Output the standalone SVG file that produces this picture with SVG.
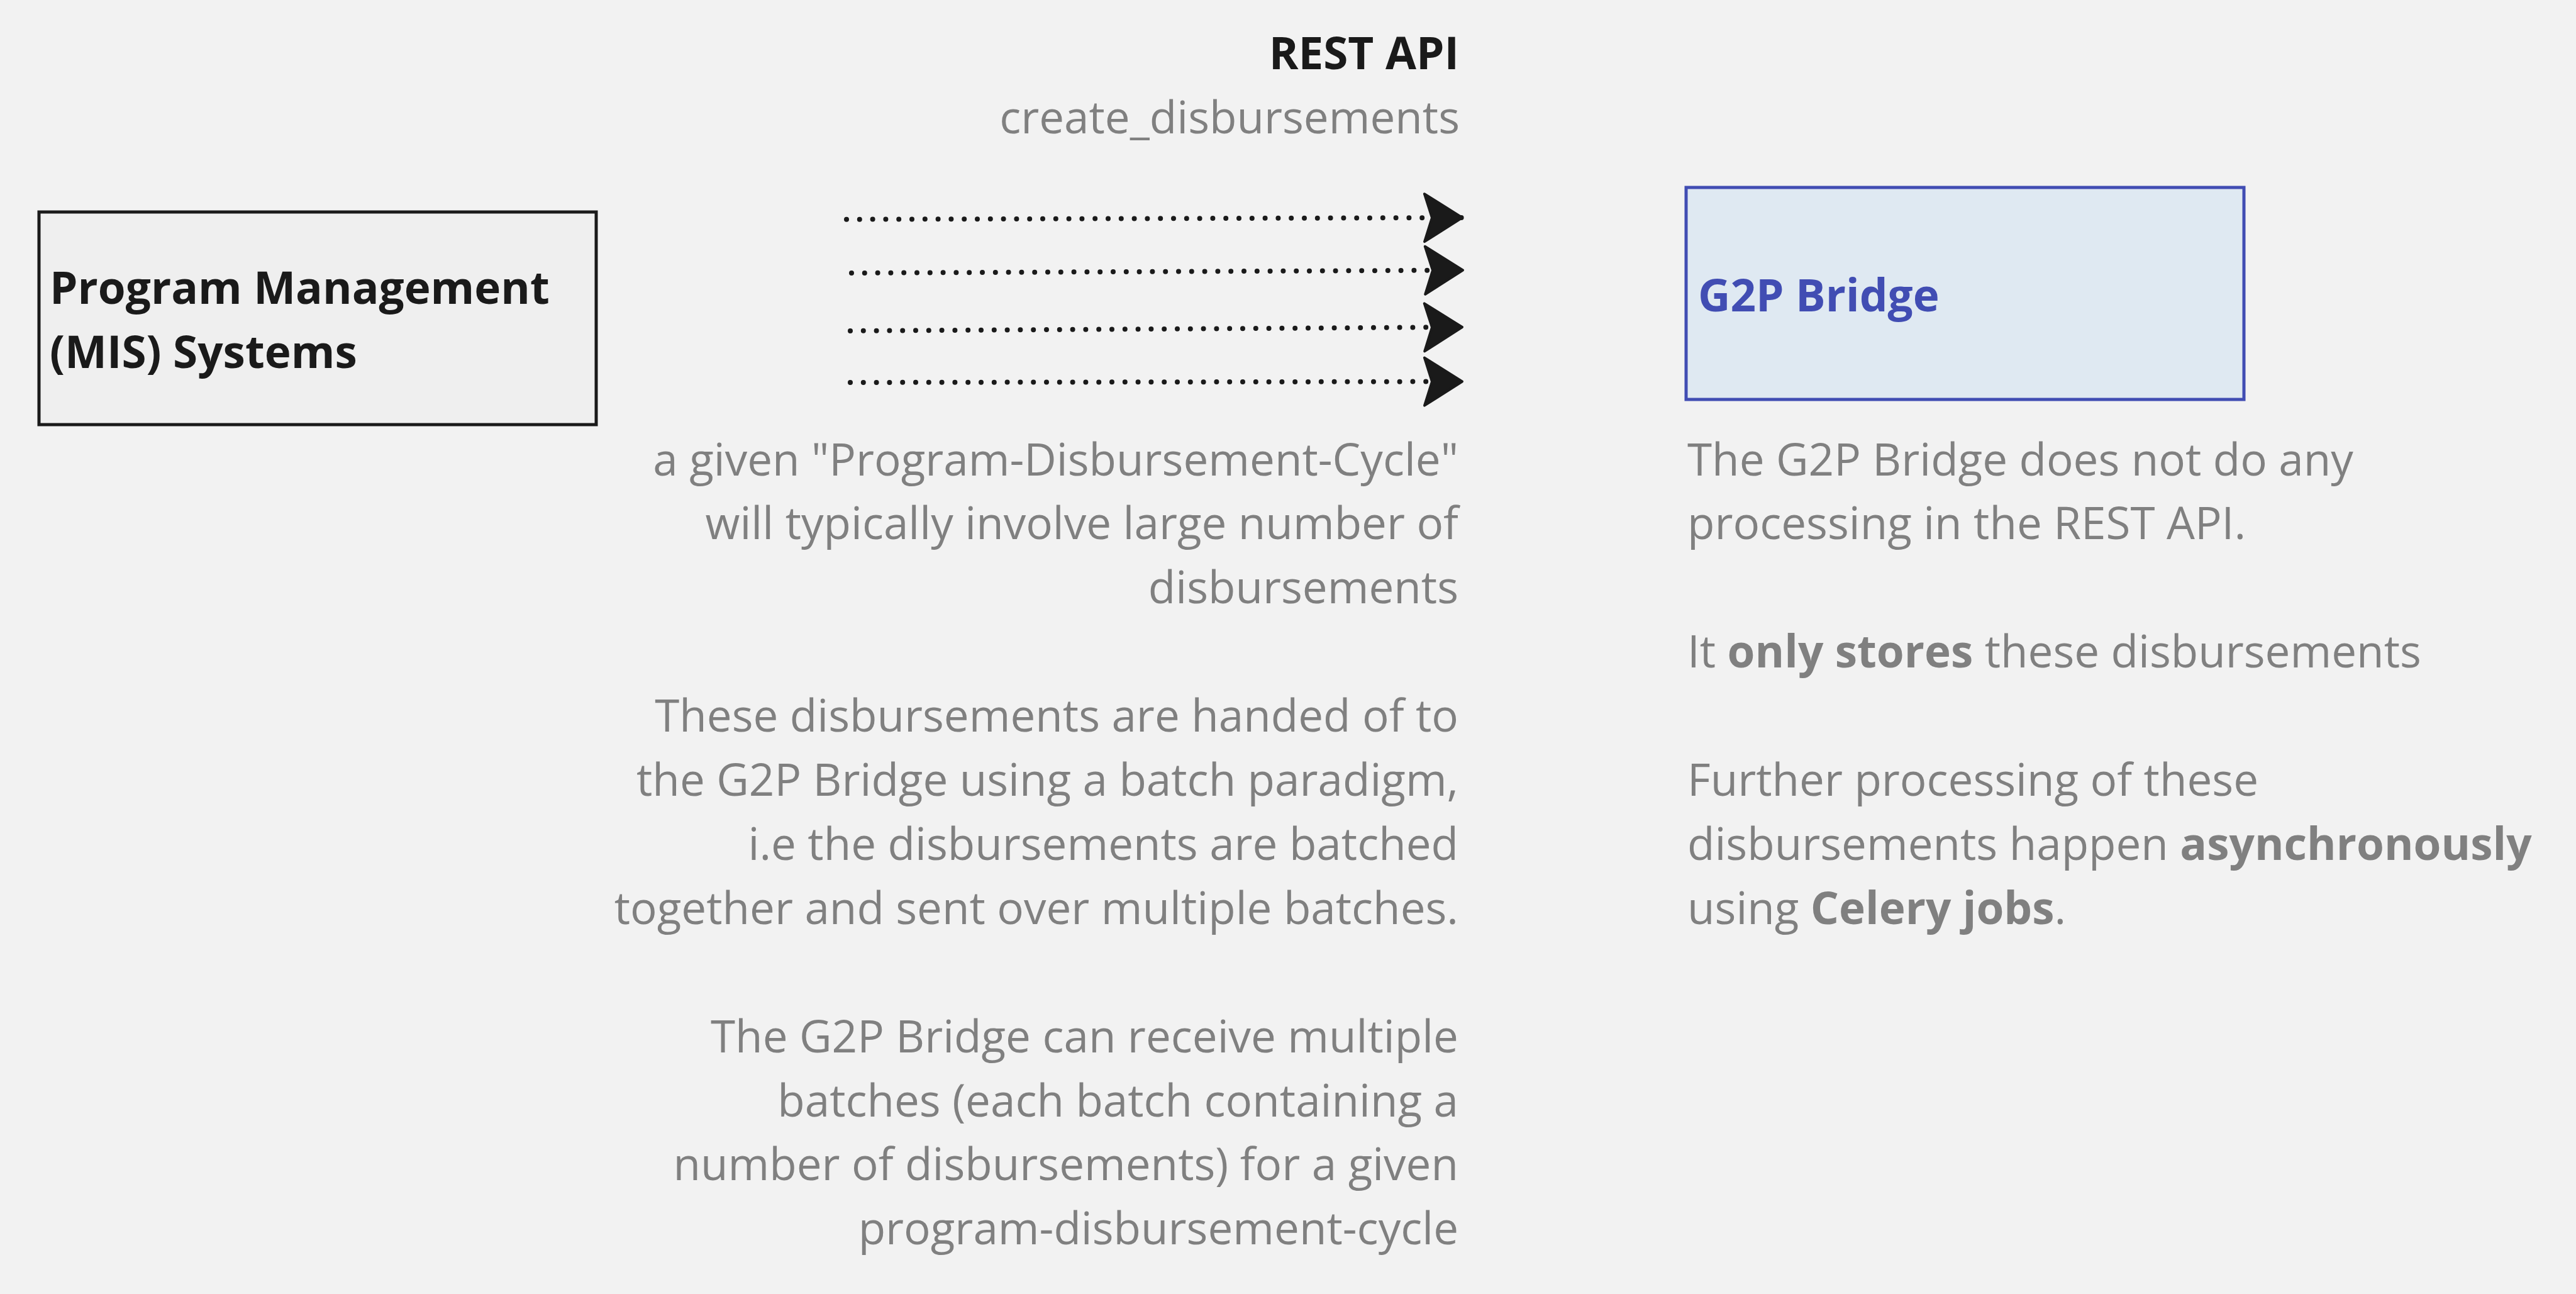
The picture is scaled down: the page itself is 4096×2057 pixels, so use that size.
<svg xmlns="http://www.w3.org/2000/svg" width="4096" height="2057" viewBox="0 0 4096 2057">
  <style>
    .bg { fill: #f2f2f2; }
    .lbl { font-family: "Open Sans", "Noto Sans", sans-serif; font-size: 71px; font-weight: 700; }
    .note { font-family: "Open Sans", "Noto Sans", sans-serif; font-size: 71px; fill: #808080; }
    .b { font-weight: 700; }
    .conn { fill: none; stroke: #1a1a1a; stroke-width: 8; stroke-linecap: round; stroke-dasharray: 0 20.8; }
  </style>
  <defs>
    <marker id="head" markerUnits="userSpaceOnUse" markerWidth="80" markerHeight="90" refX="62" refY="40" orient="auto" overflow="visible">
      <path d="M2,2 L62,40 L2,78 L14,40 Z" fill="#1a1a1a" stroke="#1a1a1a" stroke-width="4" stroke-linejoin="round"/>
    </marker>
  </defs>
  <rect class="bg" x="0" y="0" width="4096" height="2057"/>

  <g id="mis">
    <rect x="62" y="337" width="886" height="338" fill="#efefef" stroke="#1a1a1a" stroke-width="5"/>
    <text class="lbl" fill="#1a1a1a"><tspan x="79" y="483">Program Management</tspan><tspan x="79" y="585">(MIS) Systems</tspan></text>
  </g>

  <g id="g2p">
    <rect x="2681" y="298" width="887" height="337" fill="#dfe9f2" stroke="#414db3" stroke-width="5"/>
    <text class="lbl" fill="#414db3" x="2700" y="495">G2P Bridge</text>
  </g>

  <g id="api-label">
    <text class="lbl" fill="#1a1a1a" x="2320" y="110" text-anchor="end">REST API</text>
    <text class="note" x="2321" y="212" text-anchor="end">create_disbursements</text>
  </g>

  <g id="connectors">
    <path class="conn" d="M1346,348.7 L2325,346" marker-end="url(#head)"/>
    <path class="conn" d="M1354,434 L2326,429.5" marker-end="url(#head)"/>
    <path class="conn" d="M1352,526 L2325,520" marker-end="url(#head)"/>
    <path class="conn" d="M1352,608 L2325,606.5" marker-end="url(#head)"/>
  </g>

  <g id="batch-notes">
    <text class="note" text-anchor="end"><tspan x="2319" y="755.5">a given "Program-Disbursement-Cycle"</tspan><tspan x="2319" y="857.4">will typically involve large number of</tspan><tspan x="2319" y="959.3">disbursements</tspan><tspan x="2319" y="1163.1">These disbursements are handed of to</tspan><tspan x="2319" y="1265">the G2P Bridge using a batch paradigm,</tspan><tspan x="2319" y="1366.9">i.e the disbursements are batched</tspan><tspan x="2319" y="1468.8">together and sent over multiple batches.</tspan><tspan x="2319" y="1672.6">The G2P Bridge can receive multiple</tspan><tspan x="2319" y="1774.5">batches (each batch containing a</tspan><tspan x="2319" y="1876.4">number of disbursements) for a given</tspan><tspan x="2319" y="1978.3">program-disbursement-cycle</tspan></text>
  </g>

  <g id="bridge-notes">
    <text class="note"><tspan x="2683" y="755.5">The G2P Bridge does not do any</tspan><tspan x="2683" y="857.4">processing in the REST API.</tspan><tspan x="2683" y="1061.2">It <tspan class="b">only stores</tspan> these disbursements</tspan><tspan x="2683" y="1265">Further processing of these</tspan><tspan x="2683" y="1366.9">disbursements happen <tspan class="b">asynchronously</tspan></tspan><tspan x="2683" y="1468.8">using <tspan class="b">Celery jobs</tspan>.</tspan></text>
  </g>
</svg>
